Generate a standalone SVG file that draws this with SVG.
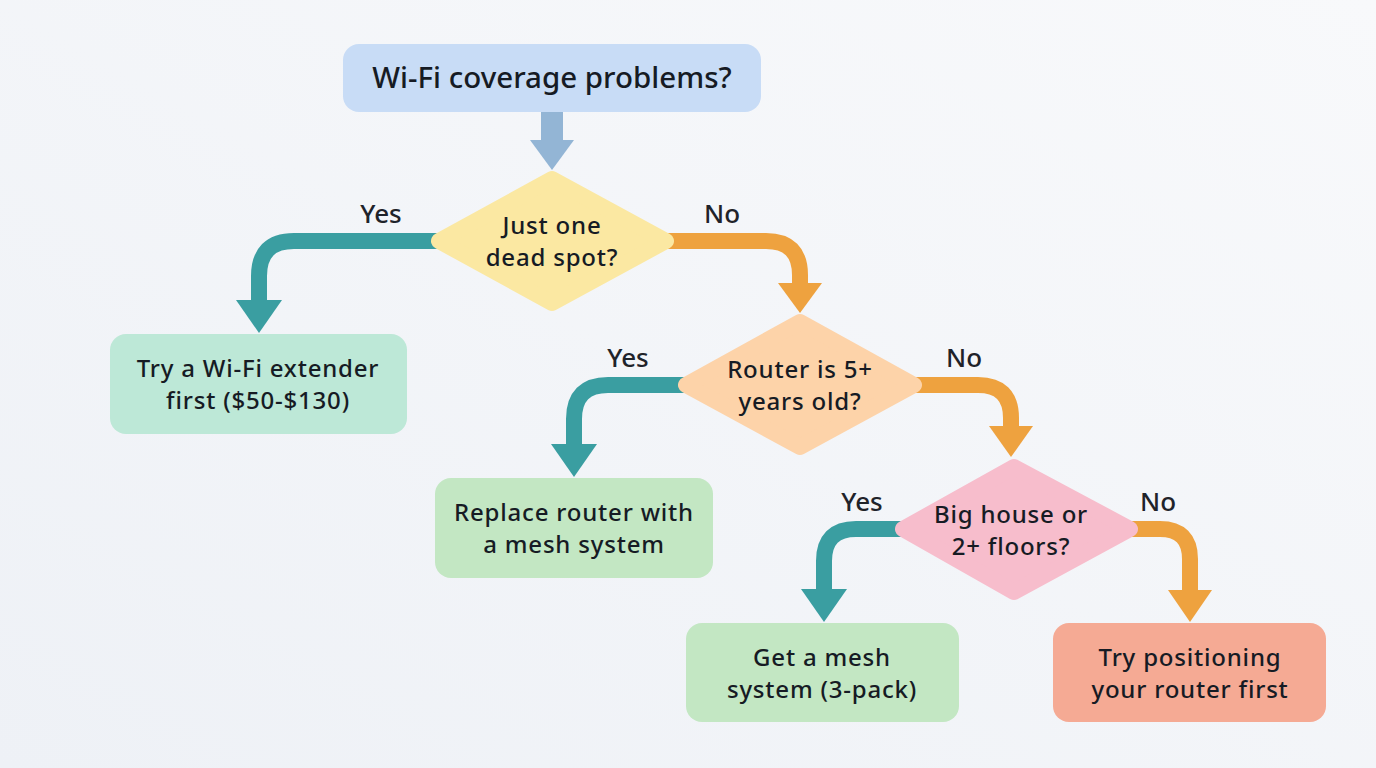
<svg xmlns="http://www.w3.org/2000/svg" width="1376" height="768" viewBox="0 0 1376 768">
  <defs>
    <linearGradient id="bg" x1="0" y1="1" x2="1" y2="0">
      <stop offset="0" stop-color="#eef1f6"/>
      <stop offset="1" stop-color="#f8f9fb"/>
    </linearGradient>
    <style>
      text { font-family: "Noto Sans", "Open Sans", "DejaVu Sans", sans-serif; fill: #161b24; text-anchor: middle; font-weight: 500; }
      .t { font-size: 24px; letter-spacing: 0.8px; }
      .title { font-size: 29.5px; }
      .lbl { font-size: 26px; fill: #1f232a; }
      .yes { fill: none; stroke: #3a9ea1; stroke-width: 16; }
      .no { fill: none; stroke: #eea23f; stroke-width: 16; }
      .yesh { fill: #3a9ea1; }
      .noh { fill: #eea23f; }
      .dia { stroke-width: 16; stroke-linejoin: round; }
    </style>
  </defs>
  <rect width="1376" height="768" fill="url(#bg)"/>

  <g id="connectors">
    <!-- start to diamond 1 -->
    <rect x="541" y="112" width="22" height="30" fill="#93b5d5"/>
    <polygon points="530,140 574,140 552,170" fill="#93b5d5"/>
    <!-- diamond 1 yes -->
    <path class="yes" d="M 445 241 H 294 Q 259 241 259 276 V 304"/>
    <polygon class="yesh" points="236,300 282,300 259,333"/>
    <!-- diamond 1 no -->
    <path class="no" d="M 660 241 H 766 Q 800 241 800 275 V 287"/>
    <polygon class="noh" points="778,283 822,283 800,313"/>
    <!-- diamond 2 yes -->
    <path class="yes" d="M 690 385 H 608 Q 574 385 574 419 V 448"/>
    <polygon class="yesh" points="551,444 597,444 574,477"/>
    <!-- diamond 2 no -->
    <path class="no" d="M 910 385 H 978 Q 1011 385 1011 418 V 430"/>
    <polygon class="noh" points="989,426 1033,426 1011,457"/>
    <!-- diamond 3 yes -->
    <path class="yes" d="M 905 529 H 856 Q 824 529 824 561 V 593"/>
    <polygon class="yesh" points="801,589 847,589 824,622"/>
    <!-- diamond 3 no -->
    <path class="no" d="M 1128 529 H 1160 Q 1190 529 1190 559 V 594"/>
    <polygon class="noh" points="1168,590 1212,590 1190,622"/>
    <!-- labels -->
    <text class="lbl" x="381" y="223">Yes</text>
    <text class="lbl" x="722" y="223">No</text>
    <text class="lbl" x="628" y="367">Yes</text>
    <text class="lbl" x="964" y="367">No</text>
    <text class="lbl" x="862" y="511">Yes</text>
    <text class="lbl" x="1158" y="511">No</text>
  </g>

  <g id="start">
    <rect x="343" y="44" width="418" height="68" rx="16" fill="#c8dcf6"/>
    <text class="title" x="552" y="88">Wi-Fi coverage problems?</text>
  </g>

  <g id="q1">
    <polygon class="dia" points="552,179 666,241 552,303 439,241" fill="#fbe8a2" stroke="#fbe8a2"/>
    <text class="t" x="552" y="234">Just one</text>
    <text class="t" x="552" y="266">dead spot?</text>
  </g>

  <g id="extender">
    <rect x="110" y="334" width="297" height="100" rx="16" fill="#bde8d7"/>
    <text class="t" x="258" y="377">Try a Wi-Fi extender</text>
    <text class="t" x="258" y="409">first ($50-$130)</text>
  </g>

  <g id="q2">
    <polygon class="dia" points="800,322 914,385 800,447 686,385" fill="#fdd3a9" stroke="#fdd3a9"/>
    <text class="t" x="800" y="378">Router is 5+</text>
    <text class="t" x="800" y="410">years old?</text>
  </g>

  <g id="replace">
    <rect x="435" y="478" width="278" height="100" rx="16" fill="#c3e7c3"/>
    <text class="t" x="574" y="521">Replace router with</text>
    <text class="t" x="574" y="553">a mesh system</text>
  </g>

  <g id="q3">
    <polygon class="dia" points="1014,467 1130,529 1014,592 903,529" fill="#f7bdcc" stroke="#f7bdcc"/>
    <text class="t" x="1011" y="523">Big house or</text>
    <text class="t" x="1011" y="555">2+ floors?</text>
  </g>

  <g id="mesh">
    <rect x="686" y="623" width="273" height="99" rx="16" fill="#c3e7c3"/>
    <text class="t" x="822" y="666">Get a mesh</text>
    <text class="t" x="822" y="698">system (3-pack)</text>
  </g>

  <g id="position">
    <rect x="1053" y="623" width="273" height="99" rx="16" fill="#f5aa94"/>
    <text class="t" x="1190" y="666">Try positioning</text>
    <text class="t" x="1190" y="698">your router first</text>
  </g>
</svg>
